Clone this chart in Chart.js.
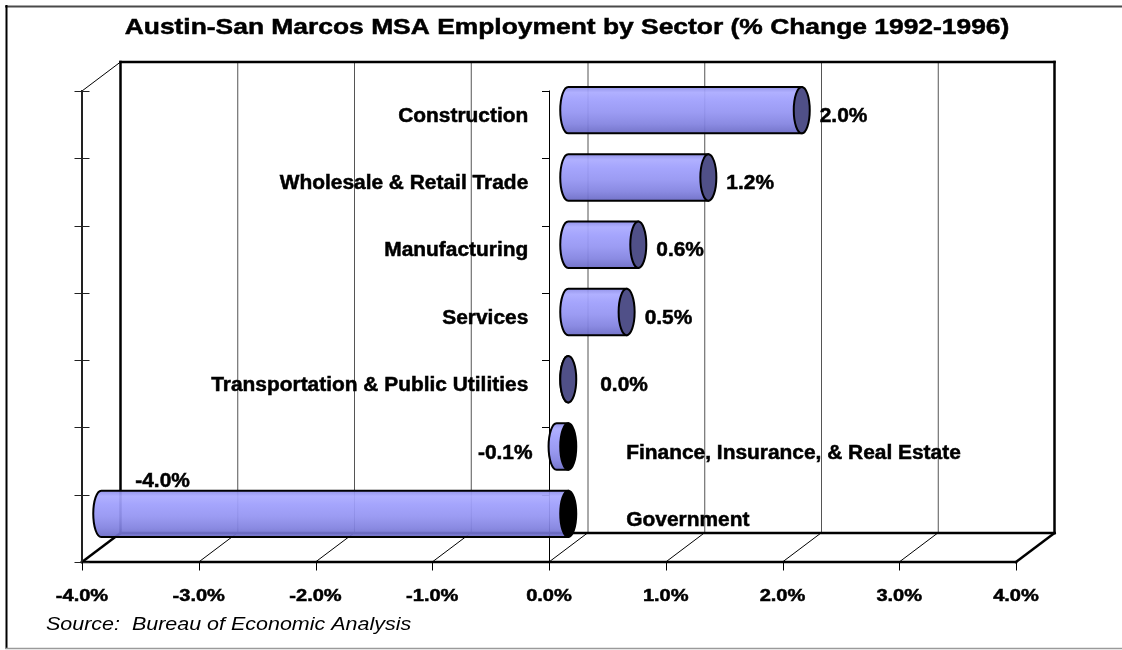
<!DOCTYPE html>
<html>
<head>
<meta charset="utf-8">
<script src="https://cdn.jsdelivr.net/npm/chart.js@4.4.0/dist/chart.umd.min.js"></script>
<style>
  html, body { margin: 0; padding: 0; background: #fff; }
  canvas { display: block; }
</style>
</head>
<body>
<canvas id="graf" width="1122" height="650"></canvas>
<script>
// sector data, % change 1992-1996
const sektory = ['Construction', 'Wholesale & Retail Trade', 'Manufacturing', 'Services',
  'Transportation & Public Utilities', 'Finance, Insurance, & Real Estate', 'Government'];
const zmeny = [2.0, 1.2, 0.6, 0.5, 0.0, -0.1, -4.0];
const osaX = [-4, -3, -2, -1, 0, 1, 2, 3, 4];
const titulek = 'Austin-San Marcos MSA Employment by Sector (% Change 1992-1996)';
const zdroj = 'Source:  Bureau of Economic Analysis';

const DX = 38.5, DY = -29;   // depth of the 3D box
const PISMO = '"Liberation Sans", Arial, sans-serif';

function cara(ctx, x1, y1, x2, y2, barva, sirka) {
  ctx.beginPath();
  ctx.moveTo(x1, y1);
  ctx.lineTo(x2, y2);
  ctx.strokeStyle = barva;
  ctx.lineWidth = sirka;
  ctx.stroke();
}

function napis(ctx, s, x, y, velikost, sx, zarovnani, styl) {
  ctx.save();
  ctx.font = (styl || 'bold') + ' ' + velikost + 'px ' + PISMO;
  ctx.textBaseline = 'middle';
  ctx.textAlign = zarovnani;
  ctx.fillStyle = '#000';
  ctx.translate(x, y);
  ctx.scale(sx, 1);
  ctx.fillText(s, 0, 0);
  if (!styl) {
    ctx.strokeStyle = '#000';
    ctx.lineWidth = 0.5;
    ctx.strokeText(s, 0, 0);
  }
  ctx.restore();
}

const ramec3d = {
  id: 'ramec3d',
  beforeDatasetsDraw(chart) {
    const { ctx, chartArea: a, scales: { x, y } } = chart;
    const W = chart.width;
    const xf = v => x.getPixelForValue(v);
    const pas = y.getPixelForValue(1) - y.getPixelForValue(0);
    ctx.save();
    ctx.lineCap = 'square';

    // outer border
    cara(ctx, 6, 6.5, W, 6.5, '#4a4a4a', 2);
    cara(ctx, 6.5, 6, 6.5, 648, '#000', 2);
    cara(ctx, 6, 648.5, W, 648.5, '#9a9a9a', 1.5);

    // back wall gridlines
    osaX.slice(1, -1).forEach(v => {
      cara(ctx, xf(v) + DX + 0.5, a.top + DY, xf(v) + DX + 0.5, a.bottom + DY, '#555', 1);
    });
    // floor lines
    osaX.slice(1, -1).forEach(v => {
      cara(ctx, xf(v), a.bottom, xf(v) + DX, a.bottom + DY, '#000', 1);
    });
    // back wall + floor outline
    const bl = a.left + DX, br = a.right + DX, bt = a.top + DY, bb = a.bottom + DY;
    cara(ctx, bl, bt, br, bt, '#000', 2.5);
    cara(ctx, bl, bt, bl, bb, '#000', 2.5);
    cara(ctx, br, bt, br, bb, '#000', 2.5);
    cara(ctx, bl, bb, br, bb, '#000', 2.5);
    cara(ctx, a.left, a.bottom, a.right, a.bottom, '#000', 2.5);
    cara(ctx, a.left, a.bottom, bl, bb, '#000', 2.5);
    cara(ctx, a.right, a.bottom, br, bb, '#000', 2.5);

    // left wall edge with category ticks
    cara(ctx, a.left, a.top, bl, bt, '#000', 1);
    cara(ctx, a.left, a.top, a.left, a.bottom, '#222', 2);
    const x0 = Math.round(xf(0)) + 0.5;
    cara(ctx, x0, a.top, x0, a.bottom, '#000', 1);
    for (let i = 0; i <= sektory.length; i++) {
      const ty = Math.round(y.getPixelForValue(0) - pas / 2 + i * pas) + 0.5;
      cara(ctx, a.left - 7, ty, a.left + 7, ty, '#222', 1);
      cara(ctx, x0 - 7, ty, x0, ty, '#000', 1);
    }
    // value ticks under the floor
    osaX.forEach(v => {
      const tx = Math.round(xf(v)) + 0.5;
      cara(ctx, tx, a.bottom, tx, a.bottom + 8, '#000', 1);
    });
    ctx.restore();
  },

  afterDatasetsDraw(chart) {
    const { ctx, chartArea: a, scales: { x } } = chart;
    const meta = chart.getDatasetMeta(0);
    const nula = x.getPixelForValue(0) + DX / 2;
    ctx.save();
    meta.data.forEach((bar, i) => {
      const v = zmeny[i];
      const cy = bar.y + DY / 2;
      const h = bar.height / 2;
      const xa = bar.base + DX / 2, xb = bar.x + DX / 2;
      const xl = Math.min(xa, xb), xr = Math.max(xa, xb);
      const rx = 8;

      const g = ctx.createLinearGradient(0, cy - h, 0, cy + h);
      g.addColorStop(0, 'rgba(140,140,232,0.93)');
      g.addColorStop(0.12, 'rgba(170,170,255,0.93)');
      g.addColorStop(0.3, 'rgba(158,158,252,0.93)');
      g.addColorStop(0.55, 'rgba(148,148,242,0.93)');
      g.addColorStop(0.8, 'rgba(130,130,224,0.93)');
      g.addColorStop(1, 'rgba(106,106,198,0.93)');

      ctx.beginPath();
      ctx.moveTo(xr, cy - h);
      ctx.lineTo(xl, cy - h);
      ctx.ellipse(xl, cy, rx, h, 0, -Math.PI / 2, Math.PI / 2, true);
      ctx.lineTo(xr, cy + h);
      ctx.closePath();
      ctx.fillStyle = g;
      ctx.fill();
      ctx.lineWidth = 2;
      ctx.strokeStyle = '#000';
      ctx.stroke();

      ctx.beginPath();
      ctx.ellipse(xr, cy, rx, h, 0, 0, Math.PI * 2);
      ctx.fillStyle = v < 0 ? '#000' : '#505088';
      ctx.fill();
      ctx.stroke();

      const hodnota = v.toFixed(1) + '%';
      if (v >= 0) {
        napis(ctx, sektory[i], nula - 40, cy + 6, 20, 1.045, 'right');
        napis(ctx, hodnota, xr + (v > 0 ? 18 : 32), cy + 6, 20, 1.045, 'left');
      } else {
        napis(ctx, sektory[i], nula + 58, cy + 7, 20, 1.045, 'left');
        if (xl - 24 - 55 < a.left) {
          napis(ctx, hodnota, xl + 34, cy - h - 9, 20, 1.045, 'left');
        } else {
          napis(ctx, hodnota, xl - 24, cy + 7, 20, 1.045, 'right');
        }
      }
    });

    // axis labels, title, source
    osaX.forEach(v => {
      napis(ctx, v.toFixed(1) + '%', x.getPixelForValue(v), 596, 17, 1.18, 'center');
    });
    napis(ctx, titulek, 567, 28, 22, 1.2, 'center');
    napis(ctx, zdroj, 46, 625, 19, 1.13, 'left', 'italic');
    ctx.restore();
  }
};

new Chart(document.getElementById('graf'), {
  type: 'bar',
  data: {
    labels: sektory,
    datasets: [{
      data: zmeny,
      backgroundColor: 'rgba(0,0,0,0)',
      borderWidth: 0,
      barPercentage: 0.69,
      categoryPercentage: 1
    }]
  },
  options: {
    indexAxis: 'y',
    responsive: false,
    animation: false,
    layout: { padding: { left: 82, top: 91, right: 106, bottom: 88 } },
    scales: {
      x: { display: false, min: -4, max: 4 },
      y: { display: false }
    },
    plugins: {
      legend: { display: false },
      title: { display: false },
      tooltip: { enabled: false }
    }
  },
  plugins: [ramec3d]
});
</script>
</body>
</html>
